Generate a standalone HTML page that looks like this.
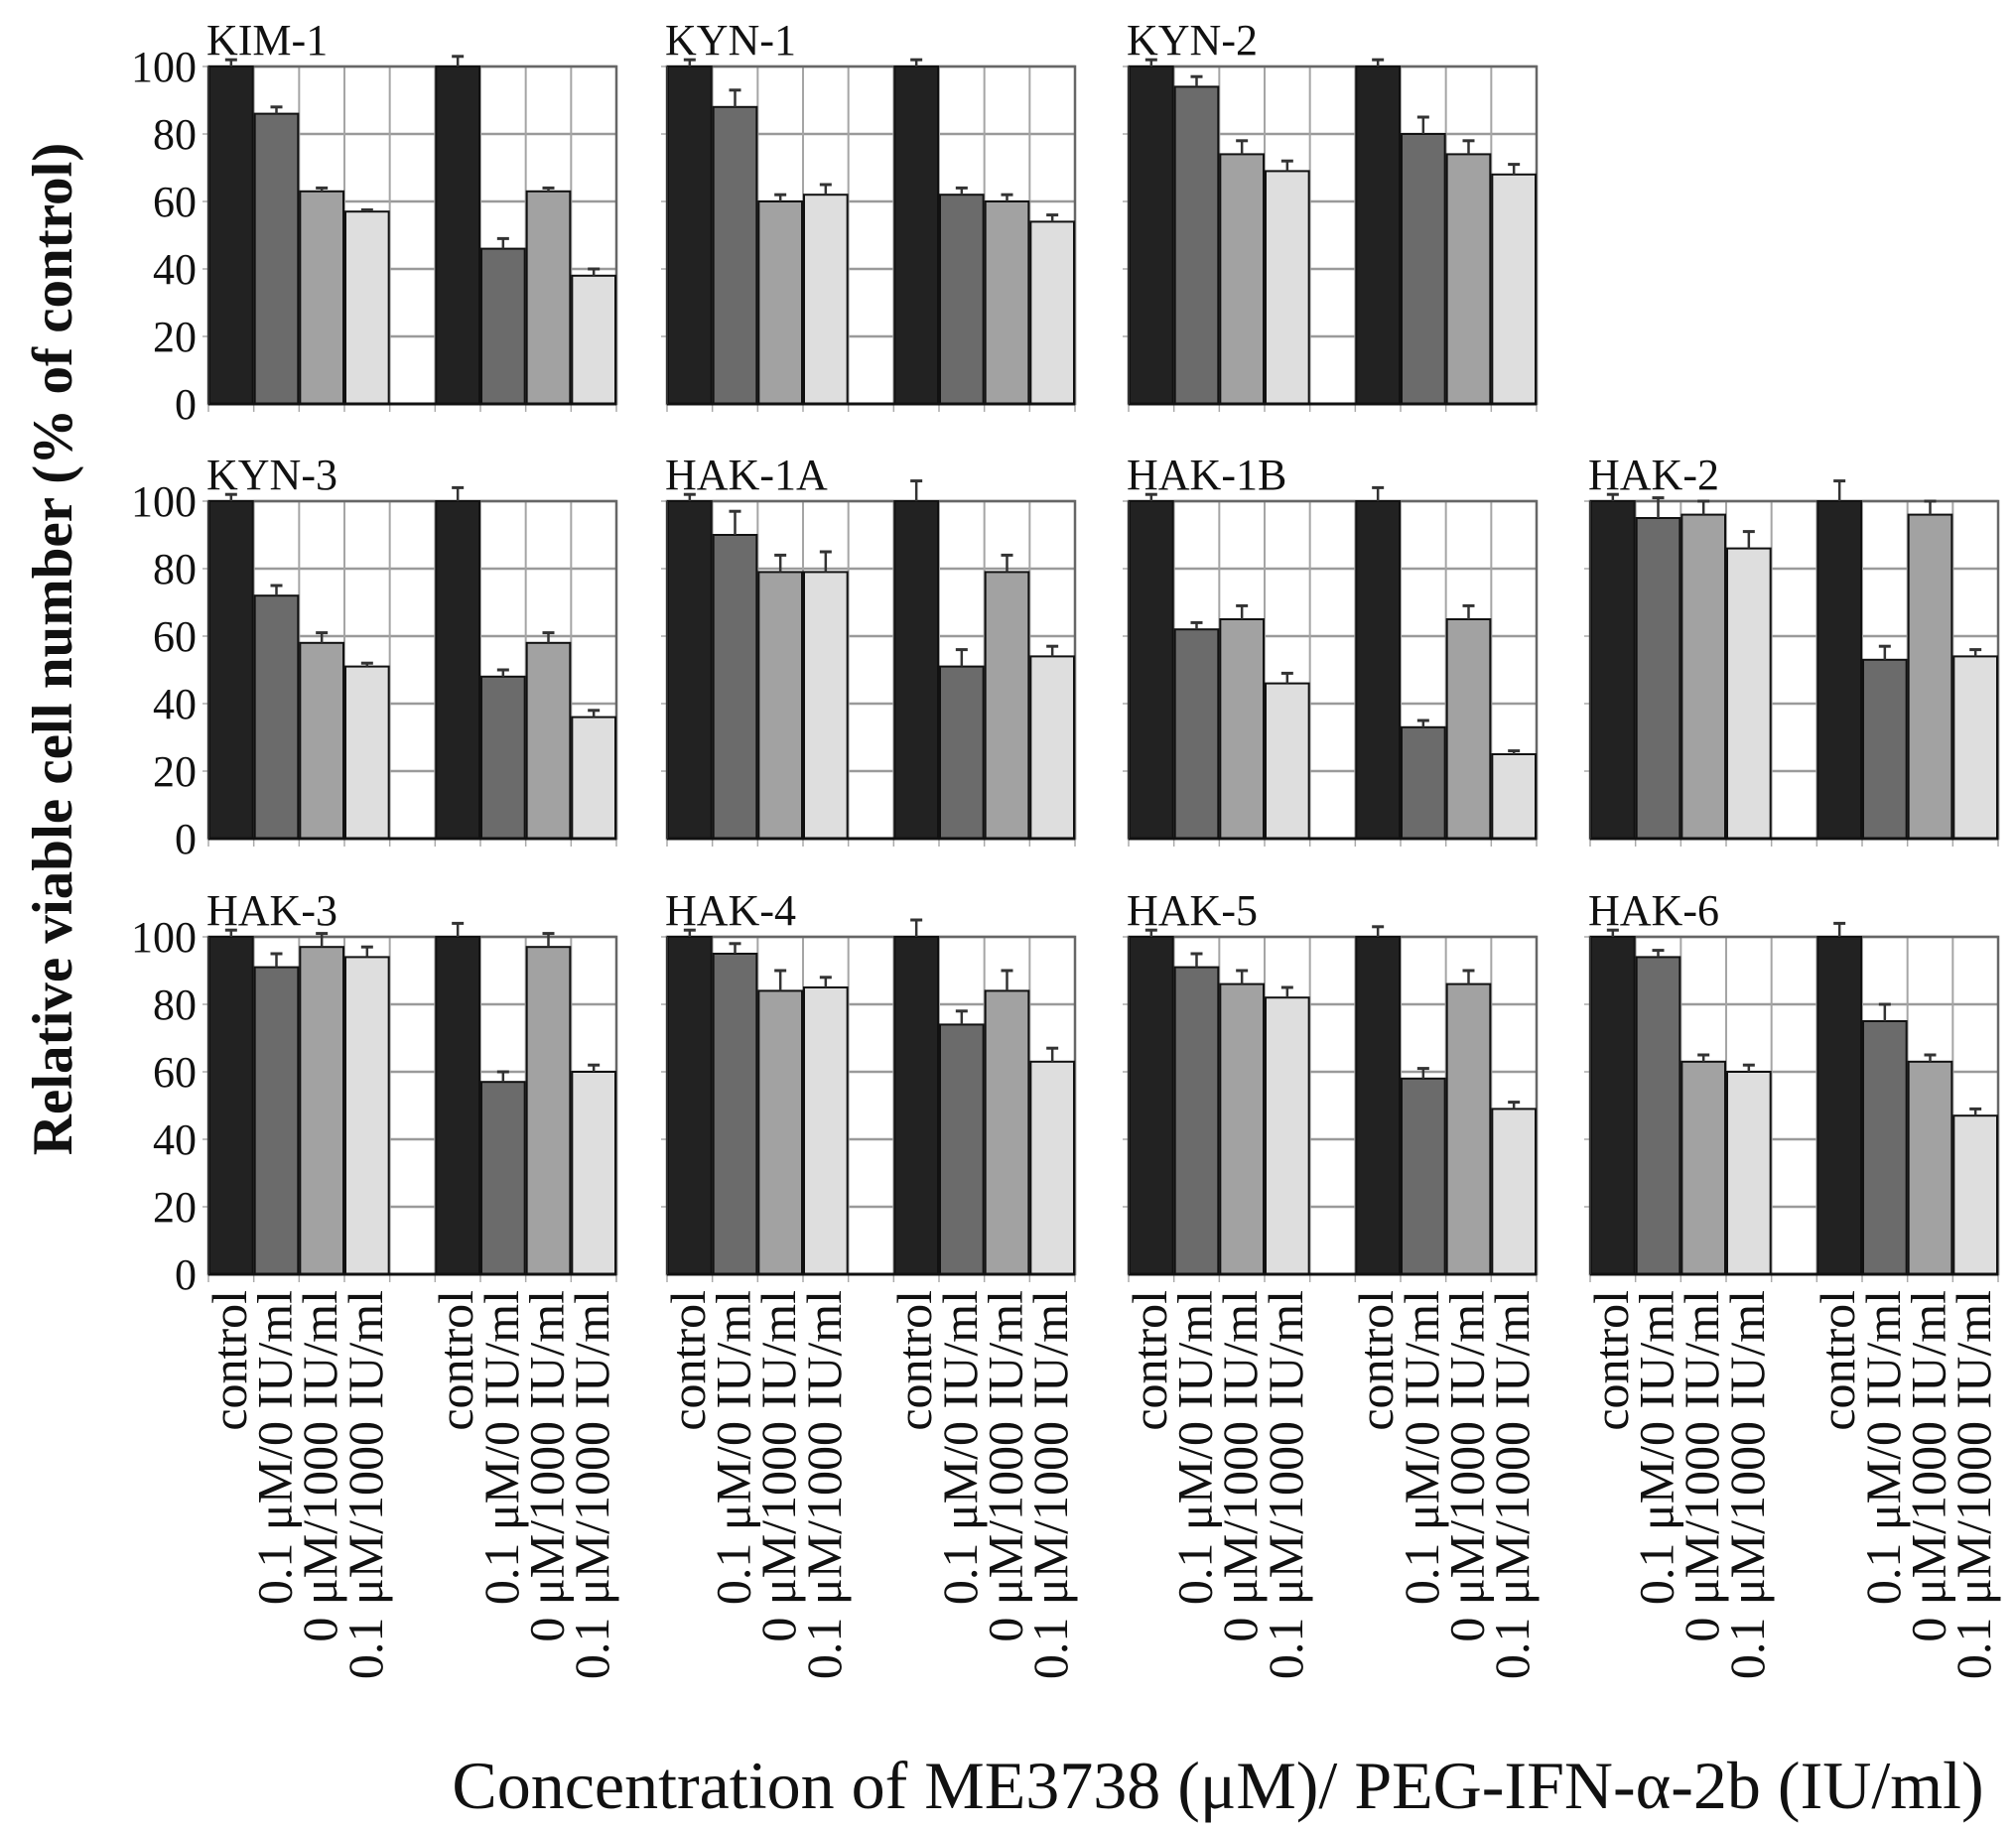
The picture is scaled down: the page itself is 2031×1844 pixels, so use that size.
<!DOCTYPE html>
<html><head><meta charset="utf-8"><style>
html,body{margin:0;padding:0;background:#fff}
svg{display:block}
text{font-family:"Liberation Serif",serif;fill:#111}
</style></head><body>
<svg id="chart" width="2031" height="1844" viewBox="0 0 2031 1844" xmlns="http://www.w3.org/2000/svg">
<text transform="translate(72,654) rotate(-90)" text-anchor="middle" font-size="57" font-weight="bold">Relative viable cell number (% of control)</text>
<text x="1227" y="1822" text-anchor="middle" font-size="68">Concentration of ME3738 (μM)/ PEG-IFN-α-2b (IU/ml)</text>
</svg>
<script>
const panelNames = ["KIM-1","KYN-1","KYN-2","KYN-3","HAK-1A","HAK-1B","HAK-2","HAK-3","HAK-4","HAK-5","HAK-6"];
const panelRows = [0,0,0,1,1,1,1,2,2,2,2];
const panelCols = [0,1,2,0,1,2,3,0,1,2,3];
const groupA = [[100,86,63,57],[100,88,60,62],[100,94,74,69],[100,72,58,51],[100,90,79,79],[100,62,65,46],[100,95,96,86],[100,91,97,94],[100,95,84,85],[100,91,86,82],[100,94,63,60]];
const groupB = [[100,46,63,38],[100,62,60,54],[100,80,74,68],[100,48,58,36],[100,51,79,54],[100,33,65,25],[100,53,96,54],[100,57,97,60],[100,74,84,63],[100,58,86,49],[100,75,63,47]];
const errA = [[2,2,1,0.5],[2,5,2,3],[2,3,4,3],[2,3,3,1],[2,7,5,6],[2,2,4,3],[2,6,4,5],[2,4,4,3],[2,3,6,3],[2,4,4,3],[2,2,2,2]];
const errB = [[3,3,1,2],[2,2,2,2],[2,5,4,3],[4,2,3,2],[6,5,5,3],[4,2,4,1],[6,4,4,2],[4,3,4,2],[5,4,6,4],[3,3,4,2],[4,5,2,2]];
const yTicks = [0,20,40,60,80,100];
const xLabels = ["control","0.1 μM/0 IU/ml","0 μM/1000 IU/ml","0.1 μM/1000 IU/ml"];
const barColors = ["#222","#6b6b6b","#a2a2a2","#dedede"];

const svg = document.getElementById('chart');
const NS = "http://www.w3.org/2000/svg";
const colX = [210,672,1137,1602];
const rowTop = [67,505,944];
const PW = 411, PH = 340, NSLOT = 9, SW = PW/NSLOT;
function mk(tag, attrs, parent){
  const e = document.createElementNS(NS, tag);
  for (const k in attrs) e.setAttribute(k, attrs[k]);
  (parent||svg).appendChild(e);
  return e;
}
function yScale(top, v){ return top + PH - v/100*PH; }

for (let p = 0; p < panelNames.length; p++) {
  const x0 = colX[panelCols[p]], top = rowTop[panelRows[p]];
  const g = mk('g', {});
  
  
  for (const t of yTicks) {
    if (t === 0) continue;
    const y = yScale(top, t);
    mk('line', {x1:x0, x2:x0+PW, y1:y, y2:y, stroke:'#9a9a9a', 'stroke-width':2.5}, g);
    mk('line', {x1:x0-6, x2:x0, y1:y, y2:y, stroke:'#aaa', 'stroke-width':1.5}, g);
  }
  for (let s = 0; s <= NSLOT; s++) {
    const x = x0 + s*SW;
    mk('line', {x1:x, x2:x, y1:top, y2:top+PH, stroke:'#a5a5a5', 'stroke-width':2}, g);
    mk('line', {x1:x, x2:x, y1:top+PH, y2:top+PH+8, stroke:'#aaa', 'stroke-width':1.5}, g);
  }
  mk('rect', {x:x0, y:top, width:PW, height:PH, fill:'none', stroke:'#666', 'stroke-width':2.5}, g);
  const groups = [[groupA[p], errA[p], 0], [groupB[p], errB[p], 5]];
  for (const [vals, errs, off] of groups) {
    for (let i = 0; i < 4; i++) {
      const bx = x0 + (off+i)*SW;
      const by = yScale(top, vals[i]);
      const r = mk('rect', {x:bx+1, y:by, width:SW-2, height:top+PH-by, fill:barColors[i], stroke:'#111', 'stroke-width':2}, g);
      
      
      const ey = yScale(top, vals[i] + errs[i]);
      const cx = bx + SW/2;
      mk('line', {x1:cx, x2:cx, y1:by, y2:ey, stroke:'#333', 'stroke-width':2.5}, g);
      mk('line', {x1:cx-6, x2:cx+6, y1:ey, y2:ey, stroke:'#333', 'stroke-width':3}, g);
    }
  }
  mk('line', {x1:x0, x2:x0+PW, y1:top+PH, y2:top+PH, stroke:'#111', 'stroke-width':3}, g);
  mk('line', {x1:x0, x2:x0, y1:top, y2:top+PH, stroke:'#333', 'stroke-width':2}, g);
  const tt = mk('text', {x:x0-2, y:top-12, 'font-size':44}, g);
  tt.textContent = panelNames[p];
  
  
  if (panelCols[p] === 0) {
    for (const t of yTicks) {
      const tl = mk('text', {x:x0-12, y:yScale(top,t)+15, 'font-size':44, 'text-anchor':'end'}, g);
      tl.textContent = t;
      
      
    }
  }
  if (panelRows[p] === 2) {
    for (const off of [0,5]) {
      for (let i = 0; i < 4; i++) {
        const cx = x0 + (off+i+0.5)*SW + 15;
        const xl = mk('text', {transform:'translate(' + cx + ',' + (top+PH+16) + ') rotate(-90)', 'font-size':50, 'text-anchor':'end'}, g);
        xl.textContent = xLabels[i];
        
        
      }
    }
  }
}
</script>
</body></html>
